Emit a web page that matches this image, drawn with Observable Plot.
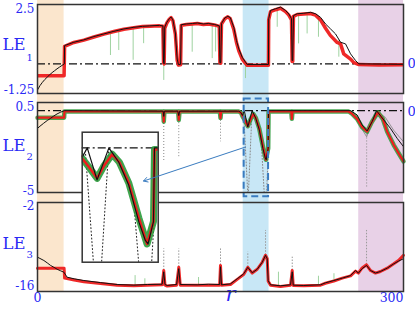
<!DOCTYPE html>
<html><head><meta charset="utf-8">
<script src="https://cdn.jsdelivr.net/npm/d3@7"></script>
<script src="https://cdn.jsdelivr.net/npm/@observablehq/plot@0.6"></script>
<style>
body{margin:0;background:#fff}
#c{position:relative;width:415px;height:314px;overflow:hidden;background:#fff}
#c svg{position:absolute;left:0;top:0}
</style></head><body><div id="c"></div>
<script>
// ---------- data ----------
const rDomain = [0, 300];
const le1Domain = [-1.25, 2.5];
const le2Domain = [-5, 0.5];
const le3Domain = [-16, -2];
const le1Ticks = [2.5, -1.25], le1TickLabels = ["2.5", "-1.25"];
const le2Ticks = [0.5, -5], le2TickLabels = ["0.5", "-5"];
const le3Ticks = [-2, -16], le3TickLabels = ["-2", "-16"];
const xTicks = [0, 300], xTickLabels = ["0", "300"];
const xLabel = "r";
const panelNames = ["LE", "LE", "LE"], panelSubs = ["1", "2", "3"];

const bandStart = [0, 168.6, 263.3];
const bandEnd = [21.8, 189.8, 300];
const bandColor = ["#fbe6cd", "#c8e7f6", "#e8d1e7"];

const le1Black = [[0,-1.1],[2,-0.92],[4,-0.78],[6,-0.66],[8,-0.56],[10,-0.46],[12,-0.37],[14,-0.29],[16,-0.21],[18,-0.14],[20,-0.07],[22,0],
[22.2,0.77],[29.8,0.91],[38,1.01],[46.2,1.15],[54.4,1.26],[62.6,1.37],[70.8,1.47],[79,1.54],[86,1.58],[92,1.6],[100,1.62],[102.8,1.6],[103.3,0.05],[103.8,0],[104.3,1.55],[106,1.75],[108,1.9],[109.5,1.97],[111,1.85],[113,1.3],[114.5,0.2],[115.5,-0.03],[117.3,-0.02],[117.8,1.65],[122,1.68],[127,1.7],[131,1.72],[136,1.68],[140,1.7],[145,1.66],[149,1.6],[149.5,0.05],[150.2,0.05],[150.8,1.7],[153.5,1.93],[156,2.0],[158,1.95],[160.9,1.54],[163.1,0.98],[165,0.63],[167.8,0.28],[170.5,0.07],[171.9,-0.03],[189.3,-0.03],[189.5,1.9],[191,2.25],[195.1,2.32],[199.2,2.39],[203.3,2.25],[206,2.1],[208.2,1.9],[208.7,0.14],[209.2,0.14],[209.8,2.03],[212.9,2.11],[218.3,2.13],[223.8,2.17],[227.9,2.11],[232,1.96],[236.1,1.68],[240.2,1.47],[244.3,1.26],[248.4,0.91],[252.5,0.84],[256.6,0.42],[260.7,0.14],[263.4,0],[280,-0.01],[300,-0.02]];

const le1Red = [[0,-0.5],[21.8,-0.5],
[22.2,0.74],[29.8,0.9],[38,1.0],[46.2,1.13],[54.4,1.25],[62.6,1.36],[70.8,1.46],[79,1.52],[86,1.57],[92,1.58],[100,1.6],[102.8,1.58],[103.3,0.05],[103.8,0],[104.3,1.5],[106,1.72],[108,1.88],[109.5,1.95],[111,1.82],[113,1.25],[114.5,0.15],[115.5,-0.05],[117.3,-0.04],[117.8,1.62],[122,1.66],[127,1.68],[131,1.7],[136,1.66],[140,1.68],[145,1.64],[149,1.58],[149.5,0.05],[150.2,0.03],[150.8,1.68],[153.5,1.9],[156,1.98],[158,1.9],[160.9,1.45],[163.1,0.9],[165,0.55],[167.8,0.2],[170.5,0.02],[171.9,-0.06],[189.3,-0.06],[189.5,1.85],[191,2.2],[195.1,2.28],[199.2,2.34],[203.3,2.2],[206,2.05],[208.2,1.85],[208.7,0.1],[209.2,0.1],[209.8,2.0],[212.9,2.08],[218.3,2.1],[223.8,2.12],[227.9,2.05],[232,1.85],[236.1,1.5],[240,1.2],[245.6,0.9],[248.4,0.84],[251,0.42],[256.6,0.2],[259.3,0.05],[263.4,-0.03],[280,-0.05],[300,-0.04]];

const le1SpikeR = [59.8, 66.6, 78.4, 87, 103.5, 115.8, 126.8, 143.2, 146, 170.5, 196.5, 214, 221, 230.3, 247];
const le1SpikeTop = [1.28, 1.37, 1.52, 1.58, 0.5, 0.2, 1.7, 1.66, 1.64, 0.1, 2.3, 2.12, 2.15, 1.98, 1.0];
const le1SpikeLow = [0.35, 0.56, 0.15, 0.85, -0.7, -0.14, 0.49, 0.22, 0.5, -0.62, 1.54, 0.84, 1.26, 1.12, 0.28];

const le2Black = [[0,-1.08],[2,-0.95],[5,-0.77],[8,-0.6],[10.7,-0.47],[13,-0.34],[16,-0.2],[19,-0.09],[22,0],[103,-0.03],[103.5,-0.35],[104,-0.03],[115,-0.03],[115.8,-0.3],[116.5,-0.03],[165,-0.03],[166.5,-0.1],[168,-0.29],[169.5,0],[172.4,-1.0],[175.9,0],[178.8,-0.44],[181.8,-1.17],[184.8,-2.32],[186.7,-2.89],[187.5,-3.0],[189.1,-2.3],[189.4,0],[256.6,0],[262,-0.26],[266,-0.87],[270.2,-1.24],[274.3,-0.67],[277.9,0],[283.9,-0.57],[289.3,-1.08],[294.8,-1.69],[300,-2.2]];

const le2Red = [[0,-0.43],[21.8,-0.43],[22.1,-0.05],[103,-0.05],[103.5,-0.67],[104,-0.05],[115.3,-0.05],[115.8,-0.57],[116.4,-0.05],[149.5,-0.05],[150,-0.45],[150.5,-0.05],[165,-0.05],[167,-0.15],[168,-0.33],[170,-0.6],[172.4,-0.95],[174.5,-0.55],[176.9,-0.2],[179,-0.45],[181.8,-1.1],[184.8,-2.2],[187.2,-3.0],[189.1,-2.3],[189.4,-0.05],[208,-0.05],[208.5,-0.5],[209,-0.05],[255,-0.05],[258,-0.2],[262,-0.5],[266,-1.0],[270.2,-1.28],[274,-0.7],[279,-0.1],[283,-0.5],[286.6,-1.28],[292,-2.1],[296,-2.6],[300,-3.1]];

const le2Grey = [[255,0],[260,-0.3],[265,-1.0],[269.8,-1.6],[273,-0.9],[276,-0.2],[277.5,0],[285,-0.4],[292,-1.2],[300,-1.9]];
const le2DeepA = [[169,-0.2],[172.3,-5],[172.9,-5],[175.8,-0.1]];
const le2DeepB = [[183.5,-2.0],[185.8,-5],[187.8,-5],[189.2,-2.4]];
const le2SpikeR = [103.5, 115.8, 150, 269.8];
const le2SpikeTop = [-0.6, -0.55, -0.4, -1.3];
const le2SpikeLow = [-3.1, -2.9, -1.9, -4.7];

const le3Black = [[0,-10.6],[2,-10.8],[5.2,-11.12],[8,-11.5],[10.7,-11.9],[13.5,-12.2],[16.1,-12.5],[19,-12.75],[21.6,-12.96],[24.3,-13.75],[30,-14.0],[38,-14.27],[51.6,-14.6],[65.3,-14.9],[79,-15.0],[90,-14.9],[102.2,-14.85],[103.5,-12.9],[104.5,-14.9],[106.3,-15.05],[114,-14.9],[115.8,-12.4],[117,-14.9],[130.9,-14.95],[140,-14.85],[149.3,-14.9],[150,-12.1],[150.8,-14.95],[158.2,-14.8],[163.7,-14.0],[169.1,-13.2],[172.4,-12.2],[176,-13.06],[180.1,-12.5],[184.2,-11.4],[186.9,-10.3],[188.3,-10.85],[189.1,-14.3],[191,-14.95],[199.2,-15.1],[207.4,-14.95],[208.8,-12.9],[209.6,-15.0],[218.3,-15.05],[232,-14.95],[236,-14.64],[242.9,-14.27],[249.8,-13.9],[256.6,-13.5],[260.7,-12.7],[263,-13.1],[266.1,-12.4],[269.7,-11.9],[273,-12.7],[277,-13.1],[281.1,-12.85],[286.6,-12.33],[292,-11.65],[296.1,-11.2],[300,-10.85]];

const le3Red = [[0,-12.33],[21.8,-12.33],[22.2,-13.9],[30,-14.2],[38,-14.45],[51.6,-14.75],[65.3,-15.0],[79,-15.1],[90,-15.0],[102.2,-14.95],[103.5,-12.7],[104.5,-15.0],[106.3,-15.15],[114,-15.0],[115.8,-12.2],[117,-15.0],[130.9,-15.0],[149.3,-15.0],[150,-11.9],[150.8,-15.0],[158.2,-14.9],[163.7,-14.1],[169.1,-13.3],[172.4,-12.2],[176,-13.1],[180.1,-12.5],[184.2,-11.4],[186.9,-10.3],[188.3,-10.85],[189.1,-14.4],[191,-15.0],[199.2,-15.2],[207.4,-15.0],[208.8,-12.7],[209.6,-15.05],[218.3,-15.1],[232,-15.0],[236,-14.7],[242.9,-14.35],[249.8,-13.9],[256.6,-13.55],[260.7,-12.8],[263,-13.1],[266.1,-12.3],[269.7,-11.8],[273,-12.7],[277,-13.1],[281.1,-12.85],[286.6,-12.33],[292,-11.65],[296.1,-11.1],[300,-10.3]];

const le3SpikeR = [103.5, 115.8, 150, 172.4, 186.9, 208.8, 269.7];
const le3SpikeBase = [-12.7, -12.2, -11.9, -12.2, -10.3, -12.7, -11.8];
const le3SpikeHigh = [-9.3, -9.3, -9.3, -9.8, -6.4, -10.6, -6.4];
const le3GreenR = [80, 88, 132, 197.5, 230.3, 243];
const le3GreenBase = [-15.1, -15.0, -15.0, -15.2, -15.0, -14.3];
const le3GreenHigh = [-13.5, -14.0, -13.8, -12.96, -13.6, -13.2];

const zoomWindowR = [169.4, 189.4];
const zoomWindowLE2 = [-5.26, 0.715];
const insetR = [168, 190.5];
const insetLE2 = [-3.57, 0.49];
const arrowR = [170.5, 86.9];
const arrowLE2 = [-2.22, -4.3];

// ---------- styles ----------
const W = 415, H = 314, XL = 37, XR = 403;
const BLUE = "#2a2af5", RED = "#ee1c1c", GREEN = "#2a9a3a", LGREEN = "#9fd3a0", BLACK = "#111", FRAME = "#333";
const FONT = "DejaVu Serif";
const DASHDOT = "8,3,2,3";
const idx = n => d3.range(n);
const P = d => d[0], V = d => d[1];

function plotAt(top, bottom, yDomain, marks, left = XL, right = XR, xd = rDomain) {
  return Plot.plot({
    width: W, height: H,
    marginLeft: left, marginRight: W - right, marginTop: top, marginBottom: H - bottom,
    x: {domain: xd, axis: null}, y: {domain: yDomain, axis: null},
    style: {background: "transparent", overflow: "visible", fontFamily: FONT},
    marks
  });
}

function labels(ticks, tickLabels, dys, name, sub, dyName, dySub, rightZero, dyZero) {
  const m = [];
  ticks.forEach((t, i) => {
    m.push(Plot.text([t], {x: () => rDomain[0], y: d => d, text: () => tickLabels[i], dx: -3, dy: dys[i], textAnchor: "end", fill: BLUE, fontSize: 12, fontFamily: FONT}));
  });
  m.push(Plot.text([name], {frameAnchor: "left", dx: -35, dy: dyName, textAnchor: "start", fill: BLUE, fontSize: 16.5, fontFamily: FONT}));
  m.push(Plot.text([sub], {frameAnchor: "left", dx: -11, dy: dySub, textAnchor: "start", fill: BLUE, fontSize: 10, fontFamily: FONT}));
  if (rightZero) m.push(Plot.text([0], {x: () => rDomain[1], y: d => d, text: () => "0", dx: 4, dy: dyZero, textAnchor: "start", fill: BLUE, fontSize: 13, fontFamily: FONT}));
  return m;
}

const c = document.getElementById("c");

// background shading + x labels
c.appendChild(plotAt(0, 292, [0, 1], [
  Plot.rect(idx(3), {x1: i => bandStart[i], x2: i => bandEnd[i], fill: i => bandColor[i]}),
  Plot.text(xTicks, {x: d => d, text: (d, i) => xTickLabels[i], frameAnchor: "bottom", dy: 9, textAnchor: "middle", fill: BLUE, fontSize: 12.5, fontFamily: FONT, filter: d => d === 0}),
  Plot.text(xTicks, {x: d => d, text: (d, i) => xTickLabels[i], frameAnchor: "bottom", dy: 9, textAnchor: "end", fill: BLUE, fontSize: 12.5, fontFamily: FONT, filter: d => d === 300}),
  Plot.text([xLabel], {x: () => 158.2, frameAnchor: "bottom", dy: 8, fill: BLUE, fontSize: 21, fontStyle: "italic", fontFamily: FONT})
]));

// panel 1
c.appendChild(plotAt(4, 93, le1Domain, [
  Plot.ruleY([0], {stroke: BLACK, strokeWidth: 1.2, strokeDasharray: DASHDOT}),
  Plot.ruleX(idx(le1SpikeR.length), {x: i => le1SpikeR[i], y1: i => le1SpikeTop[i], y2: i => le1SpikeLow[i], stroke: LGREEN, strokeWidth: 1}),
  Plot.line(le1Red, {x: P, y: V, stroke: RED, strokeWidth: 3.5, strokeOpacity: 0.95, clip: true}),
  Plot.line(le1Black, {x: P, y: V, stroke: BLACK, strokeWidth: 1, clip: true}),
  Plot.frame({stroke: FRAME, strokeWidth: 1.5}),
  ...labels(le1Ticks, le1TickLabels, [5, -3], panelNames[0], panelSubs[0], -4.5, 8.5, true, 0)
]));

// panel 2
c.appendChild(plotAt(102, 192, le2Domain, [
  Plot.ruleY([0], {stroke: BLACK, strokeWidth: 1.2, strokeDasharray: DASHDOT}),
  Plot.ruleX(idx(le2SpikeR.length), {x: i => le2SpikeR[i], y1: i => le2SpikeTop[i], y2: i => le2SpikeLow[i], stroke: "#888", strokeWidth: 1, strokeDasharray: "1,2"}),
  Plot.line(le2DeepA, {x: P, y: V, stroke: "#888", strokeWidth: 1, strokeDasharray: "1,2"}),
  Plot.line(le2DeepB, {x: P, y: V, stroke: "#888", strokeWidth: 1, strokeDasharray: "1,2"}),
  Plot.line(le2Grey, {x: P, y: V, stroke: "#8a8a8a", strokeWidth: 0.9}),
  Plot.line(le2Red, {x: P, y: V, stroke: GREEN, strokeWidth: 4.5, strokeOpacity: 0.85}),
  Plot.line(le2Red, {x: P, y: V, stroke: RED, strokeWidth: 2.2}),
  Plot.line(le2Black, {x: P, y: V, stroke: BLACK, strokeWidth: 1}),
  Plot.rect([0], {x1: () => zoomWindowR[0], x2: () => zoomWindowR[1], y1: () => zoomWindowLE2[0], y2: () => zoomWindowLE2[1], fill: "none", stroke: "#3a7cc0", strokeWidth: 2, strokeDasharray: "7,4"}),
  Plot.frame({stroke: FRAME, strokeWidth: 1.5}),
  ...labels(le2Ticks, le2TickLabels, [5, -1], panelNames[1], panelSubs[1], -1.5, 9.5, true, 1)
]));

// panel 3
c.appendChild(plotAt(202, 291, le3Domain, [
  Plot.ruleX(idx(le3SpikeR.length), {x: i => le3SpikeR[i], y1: i => le3SpikeBase[i], y2: i => le3SpikeHigh[i], stroke: "#999", strokeWidth: 1, strokeDasharray: "1.5,1.5"}),
  Plot.ruleX(idx(le3GreenR.length), {x: i => le3GreenR[i], y1: i => le3GreenBase[i], y2: i => le3GreenHigh[i], stroke: LGREEN, strokeWidth: 1}),
  Plot.line(le3Red, {x: P, y: V, stroke: RED, strokeWidth: 3, strokeOpacity: 0.95}),
  Plot.line(le3Black, {x: P, y: V, stroke: BLACK, strokeWidth: 1}),
  Plot.frame({stroke: FRAME, strokeWidth: 1.5}),
  ...labels(le3Ticks, le3TickLabels, [4, -5], panelNames[2], panelSubs[2], -3, 7.5, false, 0)
]));

// inset (zoom of the blue window in LE2)
c.appendChild(plotAt(131.7, 261.7, insetLE2, [
  Plot.frame({fill: "white", stroke: "none"}),
  Plot.ruleY([0], {stroke: BLACK, strokeWidth: 1.2, strokeDasharray: DASHDOT}),
  Plot.line(le2DeepA, {x: P, y: V, stroke: "#222", strokeWidth: 1, strokeDasharray: "1,2.5", clip: true}),
  Plot.line(le2DeepB, {x: P, y: V, stroke: "#222", strokeWidth: 1, strokeDasharray: "1,2.5", clip: true}),
  Plot.line(le2Red, {x: P, y: V, stroke: GREEN, strokeWidth: 7, strokeOpacity: 0.9, clip: true}),
  Plot.line(le2Red, {x: P, y: V, stroke: RED, strokeWidth: 2.5, clip: true}),
  Plot.line(le2Black, {x: P, y: V, stroke: BLACK, strokeWidth: 1.2, clip: true}),
  Plot.frame({stroke: FRAME, strokeWidth: 1.5})
], 81.7, 157.7, insetR));

// arrow from the window to the inset
c.appendChild(plotAt(102, 192, le2Domain, [
  Plot.arrow([0], {x1: () => arrowR[0], y1: () => arrowLE2[0], x2: () => arrowR[1], y2: () => arrowLE2[1], stroke: "#3a7cc0", strokeWidth: 1, headLength: 7})
]));
</script></body></html>
